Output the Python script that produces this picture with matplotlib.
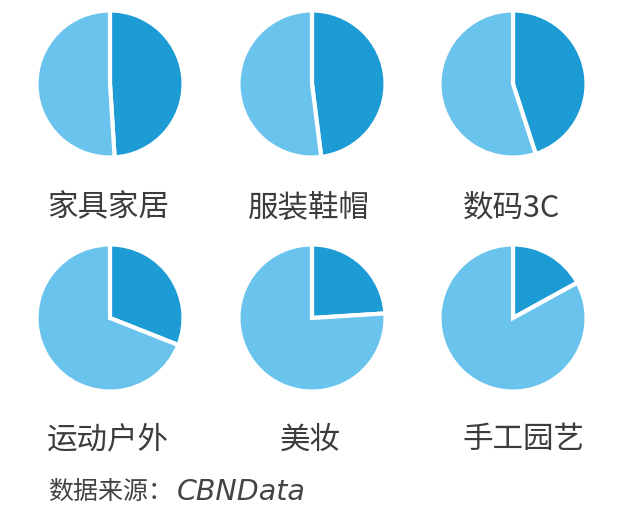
import matplotlib
matplotlib.use("Agg")
import matplotlib.pyplot as plt

plt.rcParams['font.family'] = ['Noto Sans CJK SC', 'DejaVu Sans']

# share of the dark slice (%) per category
categories = ['家具家居', '服装鞋帽', '数码3C', '运动户外', '美妆', '手工园艺']
dark_share = [49, 48, 45, 31, 24, 17]
source_label = '数据来源：'
source_name = 'CBNData'

dark_blue = '#1c9bd5'
light_blue = '#6ac3ec'

W, H = 640, 524
fig = plt.figure(figsize=(W / 100, H / 100), dpi=100)
fig.patch.set_facecolor('white')

# pixel layout: pie centres and label centres
pie_size = 150
centers_x = [110, 312, 513]
centers_y = [84, 318]
label_x = [108, 309, 511, 108, 310, 523]
label_y = [208, 440]

for i, (name, share) in enumerate(zip(categories, dark_share)):
    row, col = divmod(i, 3)
    cx, cy = centers_x[col], centers_y[row]
    ax = fig.add_axes([(cx - pie_size / 2) / W, 1 - (cy + pie_size / 2) / H,
                       pie_size / W, pie_size / H])
    ax.pie([share, 100 - share], colors=[dark_blue, light_blue],
           startangle=90, counterclock=False, radius=1,
           wedgeprops=dict(edgecolor='white', linewidth=3))
    ax.set_xlim(-1.02, 1.02)
    ax.set_ylim(-1.02, 1.02)
    ax.axis('off')
    fig.text(label_x[i] / W, 1 - label_y[row] / H, name,
             ha='center', va='center', fontsize=22, color='#3c3c3c')

# source line
fig.text(48 / W, 1 - 492 / H, source_label, ha='left', va='center',
         fontsize=18, color='#444444')
fig.text(177 / W, 1 - 492 / H, source_name, ha='left', va='center',
         fontsize=20.5, color='#444444', style='italic',
         family=['DejaVu Sans'])

fig.savefig('out.png', dpi=100, facecolor='white')
